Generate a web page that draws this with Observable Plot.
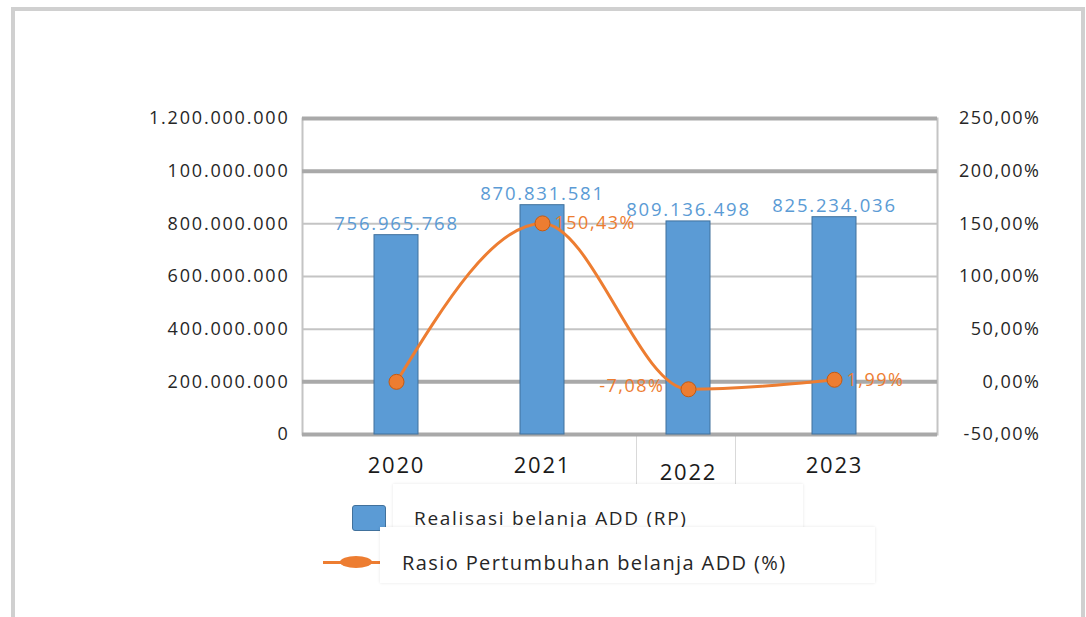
<!DOCTYPE html>
<html>
<head>
<meta charset="utf-8">
<script src="https://cdn.jsdelivr.net/npm/d3@7"></script>
<script src="https://cdn.jsdelivr.net/npm/@observablehq/plot@0.6"></script>
<style>
  html, body { margin: 0; padding: 0; background: #fff; }
  #wrap { position: relative; width: 1086px; height: 617px; overflow: hidden; background: #fff; font-family: "Open Sans", sans-serif; }
  #border { position: absolute; left: 11px; top: 7px; width: 1066px; height: 640px; border: 4px solid #d0d0d0; border-bottom: none; }
  #box2022 { position: absolute; left: 636px; top: 433px; width: 98px; height: 60px; border: 1px solid #d9d9d9; background: #fff; }
  .layer { position: absolute; left: 0; top: 0; }
  .layer svg { display: block; overflow: visible; }
  #sqBlue { position: absolute; left: 352px; top: 505px; width: 32px; height: 24px; background: #5b9bd5; border: 1px solid #41719c; border-radius: 3px; z-index: 4; }
  #box1 { position: absolute; left: 393px; top: 484px; width: 410px; height: 55px; background: #fff; box-shadow: 0 0 3px rgba(0,0,0,0.10); z-index: 5; }
  #box1 span { position: absolute; left: 21px; top: 23px; font-size: 19px; line-height: 22px; color: #262626; letter-spacing: 1.7px; white-space: nowrap; }
  #lnOrange { position: absolute; left: 323px; top: 561px; width: 57px; height: 3px; background: #ed7d31; z-index: 4; }
  #elOrange { position: absolute; left: 340px; top: 556px; width: 32px; height: 12px; border-radius: 50%; background: #ed7d31; z-index: 4; }
  #box2 { position: absolute; left: 380px; top: 527px; width: 495px; height: 56px; background: #fff; box-shadow: 0 0 3px rgba(0,0,0,0.10); z-index: 6; }
  #box2 span { position: absolute; left: 22px; top: 24px; font-size: 20px; line-height: 24px; color: #262626; letter-spacing: 1.4px; white-space: nowrap; }
</style>
</head>
<body>
<div id="wrap">
  <div id="border"></div>
  <div id="box2022"></div>
  <div id="chart1" class="layer" style="z-index:2"></div>
  <div id="chart2" class="layer" style="z-index:3"></div>
  <div id="sqBlue"></div>
  <div id="box1"><span id="leg1"></span></div>
  <div id="lnOrange"></div>
  <div id="elOrange"></div>
  <div id="box2"><span id="leg2"></span></div>
</div>
<script>
// ---- data ----
const years = ["2020", "2021", "2022", "2023"];
const realisasi = [756965768, 870831581, 809136498, 825234036];
const realisasiLabels = ["756.965.768", "870.831.581", "809.136.498", "825.234.036"];
const rasio = [0, 150.43, -7.08, 1.99];
const rasioLabels = ["", "150,43%", "-7,08%", "1,99%"];
const leftTicks = [0, 200000000, 400000000, 600000000, 800000000, 1000000000, 1200000000];
const leftTickLabels = ["0", "200.000.000", "400.000.000", "600.000.000", "800.000.000", "100.000.000", "1.200.000.000"];
const rightTicks = [-50, 0, 50, 100, 150, 200, 250];
const rightTickLabels = ["-50,00%", "0,00%", "50,00%", "100,00%", "150,00%", "200,00%", "250,00%"];
const seriesNames = ["Realisasi belanja ADD (RP)", "Rasio Pertumbuhan belanja ADD (%)"];

const bars = years.map((y, i) => ({year: y, value: realisasi[i], label: realisasiLabels[i]}));
const ratio = years.map((y, i) => ({year: y, value: rasio[i], label: rasioLabels[i]}));

const W = 1086, H = 500;
const common = {
  width: W, height: H,
  marginLeft: 302, marginRight: 149, marginTop: 118, marginBottom: 66,
  x: {type: "band", domain: years, range: [322, 907], paddingInner: 0.7, paddingOuter: 0.35, axis: null}
};
const thick = new Set([0, 200000000, 1000000000, 1200000000]);
const BLUE = "#5b9bd5", ORANGE = "#ed7d31";

const p1 = Plot.plot({
  ...common,
  style: {fontFamily: "Open Sans, sans-serif", background: "transparent", overflow: "visible", letterSpacing: "1.8px"},
  y: {domain: [0, 1200000000], axis: null},
  marks: [
    Plot.ruleY(leftTicks.filter(t => !thick.has(t)), {stroke: "#c4c4c4", strokeWidth: 2}),
    Plot.frame({stroke: "#c4c4c4", strokeWidth: 2}),
    Plot.ruleY(leftTicks.filter(t => thick.has(t)), {stroke: "#a9a9a9", strokeWidth: 4}),
    Plot.axisY({ticks: leftTicks, label: null, tickSize: 0, tickPadding: 13, fontSize: 18, fill: "#262626",
      tickFormat: d => leftTickLabels[leftTicks.indexOf(d)]}),
    Plot.barY(bars, {x: "year", y: "value", fill: BLUE, stroke: "#41719c", strokeWidth: 1}),
    Plot.text(bars, {x: "year", y: "value", text: "label", dy: -11, fill: BLUE, fontSize: 18.5}),
    Plot.text(bars.filter(d => d.year !== "2022"), {x: "year", frameAnchor: "bottom", text: "year", dy: 38, fontSize: 22, fill: "#1a1a1a"}),
    Plot.text(bars.filter(d => d.year === "2022"), {x: "year", frameAnchor: "bottom", text: "year", dy: 45, fontSize: 22, fill: "#1a1a1a"})
  ]
});
document.getElementById("chart1").append(p1);

const p2 = Plot.plot({
  ...common,
  style: {fontFamily: "Open Sans, sans-serif", background: "transparent", overflow: "visible", letterSpacing: "1.5px"},
  y: {domain: [-50, 250], axis: null},
  marks: [
    Plot.axisY({anchor: "right", ticks: rightTicks, label: null, tickSize: 0, tickPadding: 0, textAnchor: "end", dx: 103,
      fontSize: 18, fill: "#262626", tickFormat: d => rightTickLabels[rightTicks.indexOf(d)]}),
    Plot.line(ratio, {x: "year", y: "value", stroke: ORANGE, strokeWidth: 3, curve: "monotone-x"}),
    Plot.dot(ratio, {x: "year", y: "value", r: 7.5, fill: ORANGE, stroke: "#c55a11", strokeWidth: 1}),
    Plot.text(ratio.filter(d => d.year === "2021" || d.year === "2023"), {x: "year", y: "value", text: "label", textAnchor: "start", dx: 12, fill: ORANGE, fontSize: 18}),
    Plot.text(ratio.filter(d => d.year === "2022"), {x: "year", y: "value", text: "label", textAnchor: "end", dx: -24, dy: -3, fill: ORANGE, fontSize: 18})
  ]
});
document.getElementById("chart2").append(p2);

document.getElementById("leg1").textContent = seriesNames[0];
document.getElementById("leg2").textContent = seriesNames[1];
</script>
</body>
</html>
